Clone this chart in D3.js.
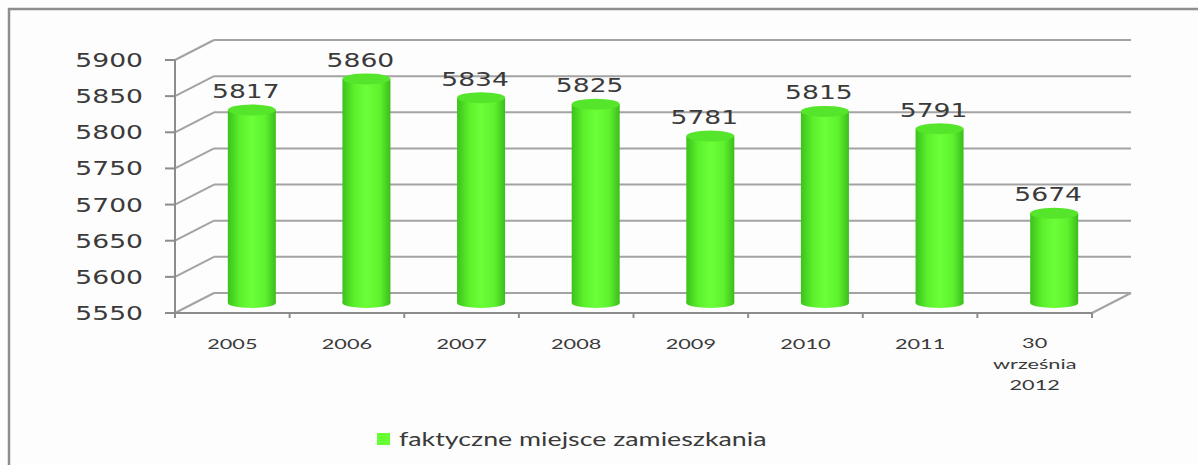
<!DOCTYPE html>
<html>
<head>
<meta charset="utf-8">
<script src="https://cdn.jsdelivr.net/npm/d3@7"></script>
<style>
  body { margin: 0; background: #fdfdfd; }
  svg { display: block; }
</style>
</head>
<body>
<div id="chart"></div>
<script>
// data
const categories = ['2005', '2006', '2007', '2008', '2009', '2010', '2011', '30 września 2012'];
const categoryLines = [['2005'], ['2006'], ['2007'], ['2008'], ['2009'], ['2010'], ['2011'], ['30', 'września', '2012']];
const values = [5817, 5860, 5834, 5825, 5781, 5815, 5791, 5674];
const yTicks = [5550, 5600, 5650, 5700, 5750, 5800, 5850, 5900];
const seriesName = 'faktyczne miejsce zamieszkania';

const width = 1198, height = 465;
const depth = {dx: 39, dy: -20};

const svg = d3.select('#chart')
    .append('svg')
    .attr('width', width)
    .attr('height', height);

// outer frame
svg.append('rect')
    .attr('x', 9).attr('y', 9)
    .attr('width', 1300).attr('height', 600)
    .attr('fill', '#fdfdfd')
    .attr('stroke', '#8e8e8e')
    .attr('stroke-width', 2.5);

// scales (front plane)
const x = d3.scaleBand()
    .domain(categories)
    .range([175, 1092]);

const y = d3.scaleLinear()
    .domain([5550, 5900])
    .range([313, 60]);

// stretched text helper (the original is widened)
function stretchText(parent, tx, ty, str, size, family, sx, anchor) {
    const g = parent.append('g').attr('transform', `translate(${tx},${ty})`);
    g.append('text')
        .attr('transform', `scale(${sx},1)`)
        .attr('text-anchor', anchor)
        .style('font-family', family)
        .style('font-size', size + 'px')
        .attr('fill', '#3a3a3a')
        .text(str);
    return g;
}

const grid = svg.append('g');
const x0 = x.range()[0], x1 = x.range()[1];

// back wall gridlines + side wall diagonals
yTicks.forEach(t => {
    grid.append('line')
        .attr('x1', x0 + depth.dx).attr('x2', x1 + depth.dx)
        .attr('y1', y(t) + depth.dy).attr('y2', y(t) + depth.dy)
        .attr('stroke', '#a3a3a3').attr('stroke-width', 2);
    grid.append('line')
        .attr('x1', x0).attr('x2', x0 + depth.dx)
        .attr('y1', y(t)).attr('y2', y(t) + depth.dy)
        .attr('stroke', '#a3a3a3').attr('stroke-width', 2);
    // tick
    grid.append('line')
        .attr('x1', x0 - 10).attr('x2', x0)
        .attr('y1', y(t)).attr('y2', y(t))
        .attr('stroke', '#8c8c8c').attr('stroke-width', 2);
    stretchText(svg, x0 - 32, y(t) + 7, d3.format('d')(t), 19, 'DejaVu Sans', 1.4, 'end');
});

// floor right diagonal
grid.append('line')
    .attr('x1', x1).attr('x2', x1 + depth.dx)
    .attr('y1', y(5550)).attr('y2', y(5550) + depth.dy)
    .attr('stroke', '#a3a3a3').attr('stroke-width', 2);

// front axes
grid.append('line')
    .attr('x1', x0).attr('x2', x0)
    .attr('y1', y(5900)).attr('y2', y(5550) + 5)
    .attr('stroke', '#8c8c8c').attr('stroke-width', 2);
grid.append('line')
    .attr('x1', x0).attr('x2', x1)
    .attr('y1', y(5550)).attr('y2', y(5550))
    .attr('stroke', '#8c8c8c').attr('stroke-width', 2);
categories.forEach(c => {
    grid.append('line')
        .attr('x1', x(c) + x.bandwidth()).attr('x2', x(c) + x.bandwidth())
        .attr('y1', y(5550)).attr('y2', y(5550) + 5)
        .attr('stroke', '#8c8c8c').attr('stroke-width', 2);
});

// x labels
categories.forEach((c, i) => {
    categoryLines[i].forEach((line, j) => {
        const dy = categoryLines[i].length > 1 ? 35 + j * 21 : 36;
        stretchText(svg, x(c) + x.bandwidth() / 2, y(5550) + dy, line, 14, 'Lato', 1.55, 'middle');
    });
});

// cylinder gradient
const defs = svg.append('defs');
const grad = defs.append('linearGradient')
    .attr('id', 'cyl')
    .attr('x1', '0%').attr('x2', '100%').attr('y1', '0%').attr('y2', '0%');
grad.append('stop').attr('offset', '0%').attr('stop-color', '#3cc21c');
grad.append('stop').attr('offset', '25%').attr('stop-color', '#5cf02c');
grad.append('stop').attr('offset', '50%').attr('stop-color', '#6aff38');
grad.append('stop').attr('offset', '78%').attr('stop-color', '#5ef22e');
grad.append('stop').attr('offset', '100%').attr('stop-color', '#3bbd1b');

// bars at mid depth
const barW = 48;
const cx = c => x(c) + x.bandwidth() / 2 + depth.dx / 2;
const ym = v => y(v) + depth.dy / 2;

const bars = svg.append('g')
    .selectAll('g')
    .data(values)
    .enter()
    .append('g');

bars.append('ellipse')
    .attr('cx', (d, i) => cx(categories[i]))
    .attr('cy', ym(5550))
    .attr('rx', barW / 2).attr('ry', 5)
    .attr('fill', 'url(#cyl)');

bars.append('rect')
    .attr('x', (d, i) => cx(categories[i]) - barW / 2)
    .attr('y', d => ym(d))
    .attr('width', barW)
    .attr('height', d => ym(5550) - ym(d))
    .attr('fill', 'url(#cyl)');

bars.append('ellipse')
    .attr('cx', (d, i) => cx(categories[i]))
    .attr('cy', d => ym(d))
    .attr('rx', barW / 2).attr('ry', 5.5)
    .attr('fill', '#55e52a');

// value labels
values.forEach((v, i) => {
    stretchText(svg, cx(categories[i]) - 6, ym(v) - 12, String(v), 19, 'DejaVu Sans', 1.4, 'middle');
});

// legend
svg.append('rect')
    .attr('x', 377).attr('y', 433)
    .attr('width', 13).attr('height', 12)
    .attr('fill', '#66ff33');
stretchText(svg, 399, 446, seriesName, 20, 'Lato', 1.34, 'start');
</script>
</body>
</html>
